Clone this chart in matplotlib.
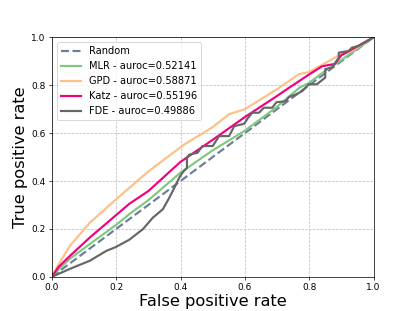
import matplotlib
matplotlib.use("Agg")
import matplotlib.pyplot as plt

# Random baseline
rand_x = [0.0, 1.0]
rand_y = [0.0, 1.0]

# MLR
mlr_x = [0.0, 0.02, 0.056, 0.118, 0.2, 0.241, 0.3, 0.4, 0.5, 0.6, 0.7, 0.77, 0.8, 0.85, 0.9, 1.0]
mlr_y = [0.0, 0.03, 0.075, 0.137, 0.217, 0.262, 0.32, 0.435, 0.528, 0.61, 0.71, 0.79, 0.81, 0.86, 0.905, 1.0]

# GPD
gpd_x = [0.0, 0.02, 0.056, 0.118, 0.2, 0.3, 0.412, 0.5, 0.551, 0.6, 0.7, 0.768, 0.8, 0.9, 0.923, 1.0]
gpd_y = [0.0, 0.05, 0.129, 0.226, 0.324, 0.44, 0.553, 0.625, 0.679, 0.70, 0.783, 0.846, 0.855, 0.93, 0.936, 1.0]

# Katz
katz_x = [0.0, 0.02, 0.056, 0.118, 0.2, 0.241, 0.3, 0.4, 0.5, 0.6, 0.7, 0.737, 0.8, 0.84, 0.88, 0.9, 1.0]
katz_y = [0.0, 0.04, 0.087, 0.164, 0.258, 0.305, 0.358, 0.48, 0.572, 0.667, 0.755, 0.789, 0.845, 0.879, 0.889, 0.925, 1.0]

# FDE
fde_x = [0.0, 0.056, 0.118, 0.169, 0.2, 0.241, 0.283, 0.314, 0.345, 0.365, 0.381, 0.396, 0.406,
         0.42, 0.42, 0.427, 0.453, 0.468, 0.5, 0.52, 0.551, 0.567, 0.598, 0.608, 0.623, 0.644,
         0.659, 0.685, 0.698, 0.727, 0.737, 0.758, 0.778, 0.799, 0.824, 0.85, 0.85, 0.871,
         0.892, 0.892, 0.923, 0.933, 0.954, 1.0]
fde_y = [0.0, 0.033, 0.067, 0.108, 0.125, 0.155, 0.199, 0.247, 0.282, 0.33, 0.372, 0.414, 0.435,
         0.455, 0.497, 0.51, 0.518, 0.546, 0.546, 0.5875, 0.5875, 0.629, 0.639, 0.66, 0.685, 0.685,
         0.706, 0.706, 0.729, 0.733, 0.751, 0.761, 0.775, 0.804, 0.804, 0.832, 0.867, 0.874,
         0.915, 0.936, 0.943, 0.957, 0.964, 1.0]

labels = ["Random", "MLR - auroc=0.52141", "GPD - auroc=0.58871",
          "Katz - auroc=0.55196", "FDE - auroc=0.49886"]
ticks = [0.0, 0.2, 0.4, 0.6, 0.8, 1.0]

DPI = 65
fig = plt.figure(figsize=(415 / DPI, 311 / DPI), dpi=DPI)
ax = fig.add_subplot(111)
ax.plot(rand_x, rand_y, linestyle="--", color="#6f7d9a", lw=2.4, label=labels[0])
ax.plot(mlr_x, mlr_y, color="#7fc97f", lw=2.4, label=labels[1])
ax.plot(gpd_x, gpd_y, color="#fdc086", lw=2.4, label=labels[2])
ax.plot(katz_x, katz_y, color="#f0027f", lw=2.4, label=labels[3])
ax.plot(fde_x, fde_y, color="#666666", lw=2.4, label=labels[4])

ax.set_xlim(0, 1)
ax.set_ylim(0, 1)
ax.set_xticks(ticks)
ax.set_yticks(ticks)
ax.tick_params(labelsize=10)
ax.grid(True, linestyle="--", color="#bbbbbb", lw=0.8)
ax.set_xlabel("False positive rate", fontsize=18, labelpad=2)
ax.set_ylabel("True positive rate", fontsize=18, labelpad=4)
ax.legend(loc="upper left", fontsize=11)

fig.savefig("out.png", dpi=DPI)
